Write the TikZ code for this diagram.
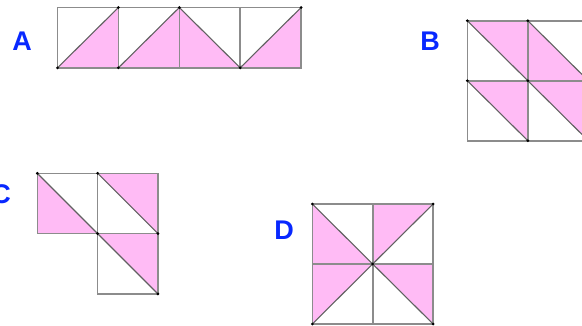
\documentclass[tikz,border=0pt]{standalone}
\usepackage{fontspec}
\setmainfont{Liberation Sans}
\definecolor{tripink}{RGB}{255,187,245}
\definecolor{lblblue}{RGB}{8,40,255}

\begin{document}
\begin{tikzpicture}[x=1pt,y=-1pt,
  gridline/.style={draw=black!45,line width=1.6pt},
  diagline/.style={draw=black!62,line width=1.1pt},
  half/.style={fill=tripink},
  lbl/.style={text=lblblue,inner sep=0pt,font=\bfseries\fontsize{27}{30}\selectfont}]
\path[use as bounding box] (0,0) rectangle (582,325);

% figure A
\begin{scope}[shift={(57.5,7.5)},x=60.9pt,y=-60.3pt]
\fill[half] (0,1)--(1,1)--(1,0)--cycle;
\fill[half] (1,1)--(2,1)--(2,0)--cycle;
\fill[half] (2,0)--(2,1)--(3,1)--cycle;
\fill[half] (3,1)--(4,1)--(4,0)--cycle;
\draw[gridline] (0,0) rectangle (4,1);
\draw[gridline] (1,0)--(1,1) (2,0)--(2,1) (3,0)--(3,1);
\draw[diagline] (0,1)--(1,0) (1,1)--(2,0) (2,0)--(3,1) (3,1)--(4,0);
\foreach \p in {(0,1),(1,1),(1,0),(2,0),(3,1),(4,0)}
  \fill \p circle[radius=.025];
\end{scope}

% figure B
\begin{scope}[shift={(467.3,20.7)},x=60.5pt,y=-60pt]
\fill[half] (0,0)--(1,0)--(1,1)--cycle;
\fill[half] (1,0)--(1,1)--(2,1)--cycle;
\fill[half] (0,1)--(1,1)--(1,2)--cycle;
\fill[half] (1,1)--(2,1)--(2,2)--cycle;
\draw[gridline] (0,0) rectangle (2,2);
\draw[gridline] (1,0)--(1,2) (0,1)--(2,1);
\draw[diagline] (0,0)--(1,1) (1,0)--(2,1) (0,1)--(1,2) (1,1)--(2,2);
\foreach \p in {(0,0),(1,0),(1,1),(0,1),(1,2)}
  \fill \p circle[radius=.025];
\end{scope}

% figure C
\begin{scope}[shift={(37.3,173.3)},x=60.3pt,y=-60.3pt]
\fill[half] (0,0)--(0,1)--(1,1)--cycle;
\fill[half] (1,0)--(2,0)--(2,1)--cycle;
\fill[half] (1,1)--(2,1)--(2,2)--cycle;
\draw[gridline] (0,0) rectangle (2,1);
\draw[gridline] (1,0)--(1,1) (1,1) rectangle (2,2);
\draw[diagline] (0,0)--(1,1) (1,0)--(2,1) (1,1)--(2,2);
\foreach \p in {(0,0),(1,0),(1,1),(2,1),(2,2)}
  \fill \p circle[radius=.025];
\end{scope}

% figure D
\begin{scope}[shift={(312.3,204)},x=60.4pt,y=-60pt]
\fill[half] (0,0)--(0,1)--(1,1)--cycle;
\fill[half] (1,0)--(2,0)--(1,1)--cycle;
\fill[half] (0,1)--(1,1)--(0,2)--cycle;
\fill[half] (1,1)--(2,1)--(2,2)--cycle;
\draw[gridline] (0,0) rectangle (2,2);
\draw[gridline] (1,0)--(1,2) (0,1)--(2,1);
\draw[diagline] (0,0)--(2,2) (2,0)--(0,2);
\foreach \p in {(0,0),(2,0),(1,1),(0,2),(2,2)}
  \fill \p circle[radius=.025];
\end{scope}

\node[lbl] (labA) at (22,41) {A};
\node[lbl] (labB) at (430,41) {B};
\node[lbl] (labC) at (1,194) {C};
\node[lbl] (labD) at (284,230) {D};
\end{tikzpicture}
\end{document}
